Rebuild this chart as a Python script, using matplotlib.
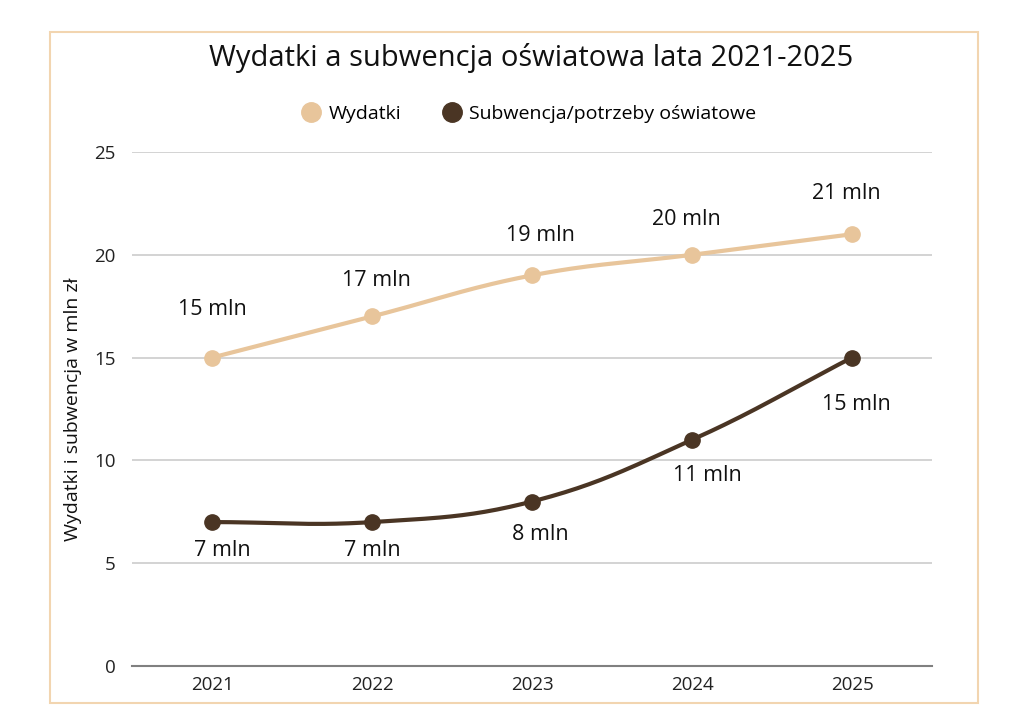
import matplotlib
matplotlib.use("Agg")
import matplotlib.pyplot as plt
from matplotlib.patches import Rectangle
from matplotlib.lines import Line2D
import numpy as np

years = ["2021", "2022", "2023", "2024", "2025"]
wydatki = [15, 17, 19, 20, 21]
subwencja = [7, 7, 8, 11, 15]
series_names = ["Wydatki", "Subwencja/potrzeby oświatowe"]
title = "Wydatki a subwencja oświatowa lata 2021-2025"
ylabel = "Wydatki i subwencja w mln zł"

c_light = "#E8C59B"
c_dark = "#4A3524"

plt.rcParams['font.family'] = ['Open Sans', 'DejaVu Sans']

W, H = 1024, 726
fig = plt.figure(figsize=(W / 100, H / 100), dpi=100)
fig.patch.set_facecolor("white")

# outer border
fig.patches.append(Rectangle((50 / W, 1 - 703 / H), 928 / W, 671 / H, transform=fig.transFigure,
                             fill=False, edgecolor="#F2D5B0", linewidth=1.5))

left, right = 132, 932
top, bottom = 152, 666
ax = fig.add_axes([left / W, 1 - bottom / H, (right - left) / W, (bottom - top) / H])
ax.set_xlim(-0.5, 4.5)
ax.set_ylim(0, 25)
ax.set_yticks([0, 5, 10, 15, 20, 25])
ax.set_xticks(range(len(years)))
ax.set_xticklabels(years)
for s in ["top", "right", "left"]:
    ax.spines[s].set_visible(False)
ax.spines["bottom"].set_color("#808080")
ax.spines["bottom"].set_linewidth(1.5)
ax.tick_params(axis="both", length=0, labelsize=13.5, colors="#222222")
ax.tick_params(axis="y", pad=12)
ax.tick_params(axis="x", pad=7)
ax.grid(axis="y", color="#cccccc", linewidth=1.2)
ax.set_axisbelow(True)
ax.set_ylabel(ylabel, fontsize=14, color="#111111")
ax.yaxis.set_label_coords((82 - left) / (right - left), 0.5 - ((409 - (top + bottom) / 2) / (bottom - top)))

fig.canvas.draw()


def spline(xs, ys, tension=0.4, n=40):
    pts = ax.transData.transform(np.column_stack([xs, ys]))
    N = len(pts)
    cps = []
    for i in range(N):
        p = pts[i]
        prev = pts[i - 1] if i > 0 else p
        nxt = pts[i + 1] if i < N - 1 else p
        d01 = np.hypot(*(p - prev))
        d12 = np.hypot(*(nxt - p))
        tot = d01 + d12
        s01 = d01 / tot if tot else 0
        s12 = d12 / tot if tot else 0
        fa = tension * s01
        fb = tension * s12
        cps.append((p - fa * (nxt - prev), p + fb * (nxt - prev)))
    out = []
    t = np.linspace(0, 1, n)[:, None]
    for i in range(N - 1):
        p0 = pts[i]
        p1 = cps[i][1]
        p2 = cps[i + 1][0]
        p3 = pts[i + 1]
        seg = ((1 - t) ** 3) * p0 + 3 * ((1 - t) ** 2) * t * p1 + 3 * (1 - t) * t ** 2 * p2 + t ** 3 * p3
        out.append(seg)
    out = np.vstack(out)
    return ax.transData.inverted().transform(out)


x = np.arange(len(years))
for vals, col in [(wydatki, c_light), (subwencja, c_dark)]:
    cur = spline(x, vals)
    ax.plot(cur[:, 0], cur[:, 1], color=col, linewidth=3, solid_capstyle="round", zorder=3)
    ax.plot(x, vals, "o", color=col, markersize=11, zorder=4)

# label offsets (pixels)
up_off = [(0, 48), (4, 36), (8, 40), (-6, 35), (-6, 41)]
dn_off = [(10, -28), (0, -28), (8, -33), (15, -36), (4, -47)]
for i in range(len(years)):
    ax.annotate(f"{wydatki[i]} mln", (x[i], wydatki[i]), xytext=up_off[i], textcoords="offset pixels",
                ha="center", va="center", fontsize=15.5, color="#111111")
    ax.annotate(f"{subwencja[i]} mln", (x[i], subwencja[i]), xytext=dn_off[i], textcoords="offset pixels",
                ha="center", va="center", fontsize=15.5, color="#111111")

fig.text(531 / W, 1 - 58 / H, title, ha="center", va="center", fontsize=21, color="#111111")

handles = [Line2D([], [], marker="o", linestyle="none", color=c_light, markersize=14),
           Line2D([], [], marker="o", linestyle="none", color=c_dark, markersize=14)]
fig.legend(handles, series_names, loc="center", bbox_to_anchor=(528 / W, 1 - 114 / H), ncol=2,
           frameon=False, fontsize=14, handletextpad=0.3, columnspacing=2.0, handlelength=1.2)

fig.savefig("out.png", dpi=100)
